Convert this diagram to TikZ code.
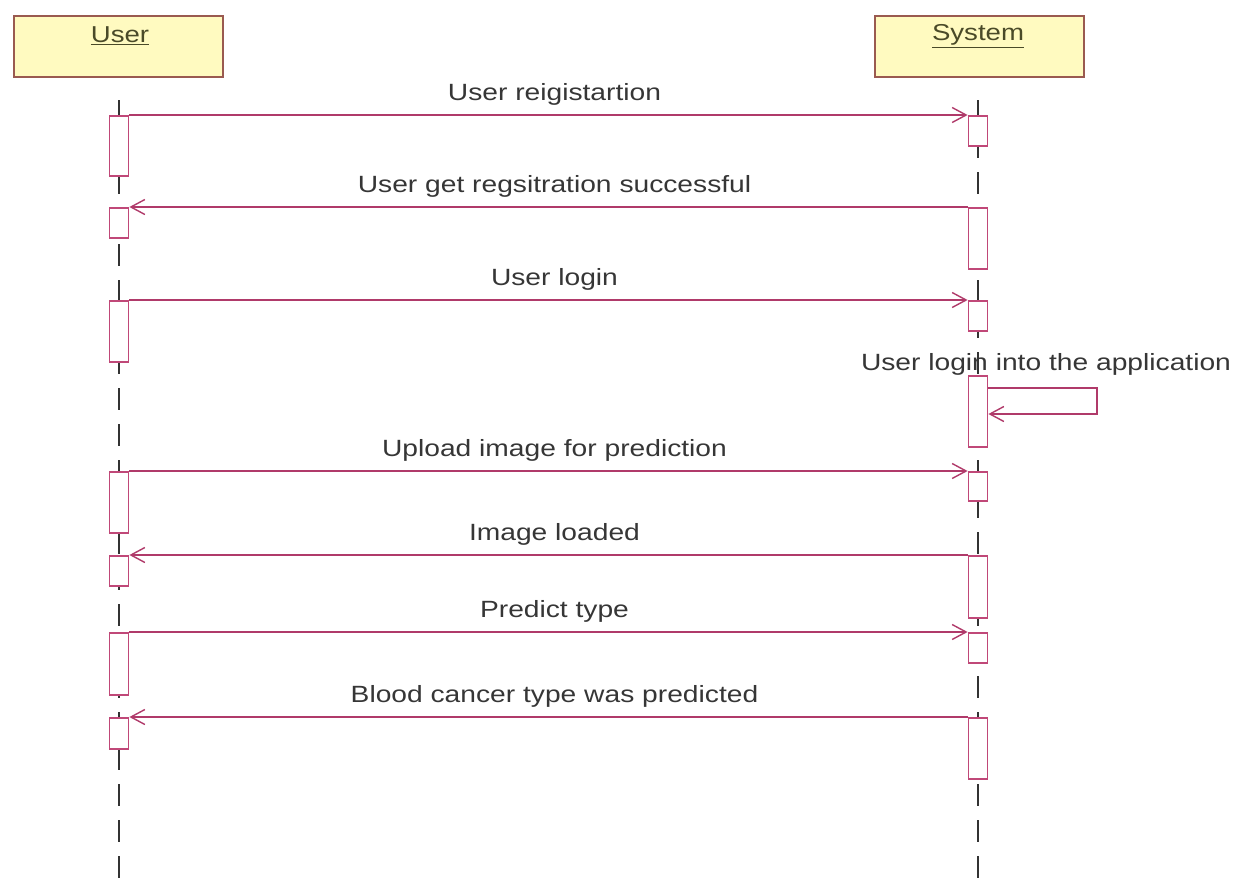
\documentclass[tikz,border=0pt]{standalone}
\usepackage{fontspec}
\setmainfont{Liberation Sans}[FakeStretch=1.2]
\usetikzlibrary{arrows.meta}
\definecolor{msgcol}{HTML}{B03A6A}
\definecolor{actcol}{HTML}{C04878}
\definecolor{hdrfill}{HTML}{FFFAC0}
\definecolor{hdrdraw}{HTML}{9A5A50}
\definecolor{txtcol}{HTML}{363636}
\definecolor{hdrtxt}{HTML}{4A4A28}
\definecolor{lifecol}{HTML}{333333}
\tikzset{
  header/.style={draw=hdrdraw, fill=hdrfill, line width=2pt, minimum width=209pt, minimum height=61pt, inner sep=0pt, anchor=north west},
  hdrtext/.style={text=hdrtxt, font=\fontsize{23}{26}\selectfont, inner sep=0pt},
  act/.style={draw=actcol, fill=white, line width=1.8pt, minimum width=19pt, inner sep=0pt, anchor=north},
  msg/.style={draw=msgcol, line width=1.8pt, -{Straight Barb[length=14pt,width=15pt,line width=1.4pt]}},
  lbl/.style={text=txtcol, font=\fontsize{23.5}{26}\selectfont, inner sep=0pt, above=9pt, midway, xshift=6pt},
  life/.style={draw=lifecol, line width=2.2pt, dash pattern=on 22pt off 14pt},
}
\begin{document}
\begin{tikzpicture}[x=1pt,y=-1pt]
\useasboundingbox (0,0) rectangle (1251,879);
% headers
\node[header] (user) at (13,15) {};
\node[header] (sys) at (874,15) {};
\node[hdrtext] (usertxt) at (120,36) {\underline{User}};
\node[hdrtext] (systxt) at (978,36) {\underline{System}};
% lifelines
\coordinate (ultop) at (119,100);
\coordinate (ulbot) at (119,879);
\coordinate (sltop) at (978,100);
\coordinate (slbot) at (978,879);
\draw[life] (ultop) -- (ulbot);
\draw[life] (sltop) -- (slbot);
% user activations
\node[act, minimum height=60pt] (u1) at (119,115) {};
\node[act, minimum height=30pt] (u2) at (119,207) {};
\node[act, minimum height=61pt] (u3) at (119,300) {};
\node[act, minimum height=61pt] (u4) at (119,471) {};
\node[act, minimum height=30pt] (u5) at (119,555) {};
\node[act, minimum height=62pt] (u6) at (119,632) {};
\node[act, minimum height=31pt] (u7) at (119,717) {};
% system activations
\node[act, minimum height=30pt] (s1) at (978,115) {};
\node[act, minimum height=61pt] (s2) at (978,207) {};
\node[act, minimum height=30pt] (s3) at (978,300) {};
\node[act, minimum height=71pt] (s4) at (978,375) {};
\node[act, minimum height=29pt] (s5) at (978,471) {};
\node[act, minimum height=62pt] (s6) at (978,555) {};
\node[act, minimum height=30pt] (s7) at (978,632) {};
\node[act, minimum height=61pt] (s8) at (978,717) {};
% messages
\draw[msg] (u1.north east) -- node[lbl] {User reigistartion} (s1.north west);
\draw[msg] (s2.north west) -- node[lbl] {User get regsitration successful} (u2.north east);
\draw[msg] (u3.north east) -- node[lbl] {User login} (s3.north west);
\draw[msg] (u4.north east) -- node[lbl] {Upload image for prediction} (s5.north west);
\draw[msg] (s6.north west) -- node[lbl] {Image loaded} (u5.north east);
\draw[msg] (u6.north east) -- node[lbl] {Predict type} (s7.north west);
\draw[msg] (s8.north west) -- node[lbl] {Blood cancer type was predicted} (u7.north east);
% self message
\coordinate (selfa) at ([yshift=-13pt]s4.north east);
\coordinate (selfb) at ([yshift=-39pt]s4.north east);
\draw[msg] (selfa) -| (1097,414) -- (selfb);
\node[text=txtcol, font=\fontsize{23.5}{26}\selectfont, inner sep=0pt] (selflbl) at (1046,364) {User login into the application};
\end{tikzpicture}
\end{document}
